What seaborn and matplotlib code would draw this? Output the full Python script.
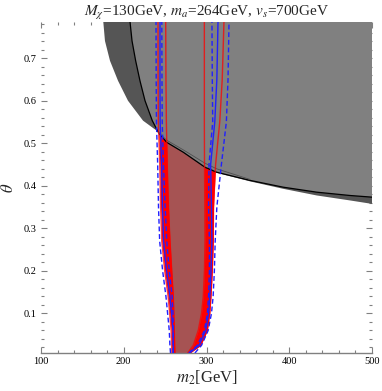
import numpy as np
import pandas as pd
import seaborn as sns
import matplotlib
matplotlib.use("Agg")
import matplotlib.pyplot as plt
from matplotlib.ticker import MultipleLocator

# ---- data ----
theta = [0.007, 0.025, 0.06, 0.10, 0.14, 0.20, 0.27, 0.35, 0.45, 0.55, 0.65, 0.785]
red_left = [258.1, 257.8, 257.2, 255.5, 253.6, 249.5, 245.9, 244.5, 243.5, 241.8, 241.5, 241.4]
brown_left = [261.9, 261.5, 261.1, 260.5, 259.9, 258.0, 255.9, 254.0, 252.5, 251.5, 251.0, 250.7]
brown_right = [277.3, 284.0, 290.0, 294.0, 296.1, 297.5, 298.2, 298.0, 297.6, 297.4, 297.4, 297.4]
red_right = [280.1, 293.0, 301.0, 304.0, 305.4, 307.0, 308.2, 308.5, 311.0, 316.0, 319.0, 321.1]
blue_left = [260.0, 259.8, 259.5, 257.8, 255.8, 251.8, 248.2, 246.8, 245.8, 244.0, 243.8, 243.8]
blue_right = [279.5, 291.0, 299.0, 302.5, 304.0, 305.5, 306.5, 306.0, 305.0, 310.0, 312.5, 313.9]
dash_left_out = [256.5, 255.8, 255.0, 253.0, 251.0, 247.0, 243.4, 242.0, 241.0, 239.5, 239.2, 239.0]
dash_left_in = [259.5, 259.8, 260.0, 259.5, 258.5, 255.0, 252.0, 250.0, 248.0, 246.5, 246.2, 246.0]
dash_right_in = [278.5, 289.0, 297.5, 301.0, 302.5, 303.5, 303.5, 302.5, 303.0, 307.5, 307.0, 306.6]
dash_right_out = [286.0, 294.0, 302.0, 306.0, 308.0, 309.5, 310.5, 312.5, 318.0, 324.0, 326.0, 327.2]

# exclusion region boundaries (top-left -> cusp -> right edge)
excl_outer_m2 = [175.3, 177.3, 183.4, 193.1, 205.1, 223.3, 240.2, 241.8,
                 251.9, 272.0, 298.2, 312.3, 352.6, 392.8, 433.2, 473.4, 500.0]
excl_outer_theta = [0.785, 0.7405, 0.6937, 0.6468, 0.600, 0.5531, 0.5290, 0.5256,
                    0.5015, 0.4780, 0.4425, 0.4305, 0.4104, 0.3929, 0.3773, 0.3656, 0.3575]
excl_inner_m2 = [207.6, 210.0, 214.4, 219.6, 225.7, 234.5, 241.8,
                 251.9, 272.0, 298.2, 312.3, 352.6, 392.8, 433.2, 473.4, 500.0]
excl_inner_theta = [0.785, 0.7405, 0.6937, 0.6468, 0.600, 0.5531, 0.5256,
                    0.5022, 0.4788, 0.4436, 0.4319, 0.4127, 0.3967, 0.3850, 0.3772, 0.3733]
aux_m2 = [241.8, 252.0, 272.0, 298.2, 312.3, 352.6]
aux_theta = [0.5256, 0.5070, 0.4844, 0.4530, 0.4399, 0.4150]

x_ticks = [100, 200, 300, 400, 500]
y_ticks = [0.1, 0.2, 0.3, 0.4, 0.5, 0.6, 0.7]

# ---- style ----
sns.set_theme(style="white")
plt.rcParams["font.family"] = ["Liberation Serif", "DejaVu Serif"]
plt.rcParams["mathtext.fontset"] = "stix"

fig = plt.figure(figsize=(3.82, 3.91), dpi=100)
ax = fig.add_axes([41 / 382, 1 - 353 / 391, 331 / 382, 331 / 391])

# fills
ax.fill_betweenx(theta, red_left, red_right, color="#ff0000", lw=0, zorder=1)
ax.fill_betweenx(theta, brown_left, brown_right, color="#a65353", lw=0, zorder=2)

ax.fill(excl_outer_m2 + [500.0], excl_outer_theta + [0.785], color="#555555", lw=0, zorder=3)
ax.fill(excl_inner_m2 + [500.0], excl_inner_theta + [0.785], color="#808080", lw=0, zorder=4)


def curve(xs, ys, **kw):
    d = pd.DataFrame({"m2": xs, "theta": ys})
    sns.lineplot(data=d, x="m2", y="theta", sort=False, estimator=None, ax=ax, **kw)


curve(excl_inner_m2, excl_inner_theta, color="black", lw=0.9, zorder=5)
curve(aux_m2, aux_theta, color="#505050", lw=0.6, zorder=5)

for xs in (red_left, brown_left, brown_right, red_right):
    curve(xs, theta, color="#ff0000", alpha=0.75, lw=1.0, zorder=6)
for xs in (blue_left, blue_right):
    curve(xs, theta, color="#2020ff", lw=1.0, zorder=7)
for xs in (dash_left_out, dash_left_in, dash_right_in, dash_right_out):
    curve(xs, theta, color="#2020ff", lw=1.0, dashes=(3.5, 2.0), zorder=7)

ax.set_xlim(100, 500)
ax.set_ylim(0.007, 0.785)
ax.set_xticks(x_ticks)
ax.set_yticks(y_ticks)
ax.set_xticklabels([str(v) for v in x_ticks])
ax.set_yticklabels([f"{v:.1f}" for v in y_ticks])
ax.xaxis.set_minor_locator(MultipleLocator(20))
ax.yaxis.set_minor_locator(MultipleLocator(0.02))
ax.tick_params(which="both", direction="in", top=True, right=True, bottom=True, left=True,
               colors="#808080", labelcolor="black", labelsize=7.5, width=0.8)
ax.tick_params(which="major", length=4, pad=3)
ax.tick_params(which="minor", length=2.2)

for s in ("top", "left", "right"):
    ax.spines[s].set_visible(False)
ax.spines["bottom"].set_color("#808080")
ax.spines["bottom"].set_linewidth(1.0)
ax.set_facecolor("white")

ax.set_xlabel(r"$m_2$[GeV]", fontsize=12, labelpad=2)
ax.set_ylabel(r"$\theta$", fontsize=12, labelpad=5)
ax.set_title(r"$M_\chi$=130GeV, $m_a$=264GeV, $v_s$=700GeV", fontsize=11, pad=3)

fig.savefig("out.png", dpi=100)
